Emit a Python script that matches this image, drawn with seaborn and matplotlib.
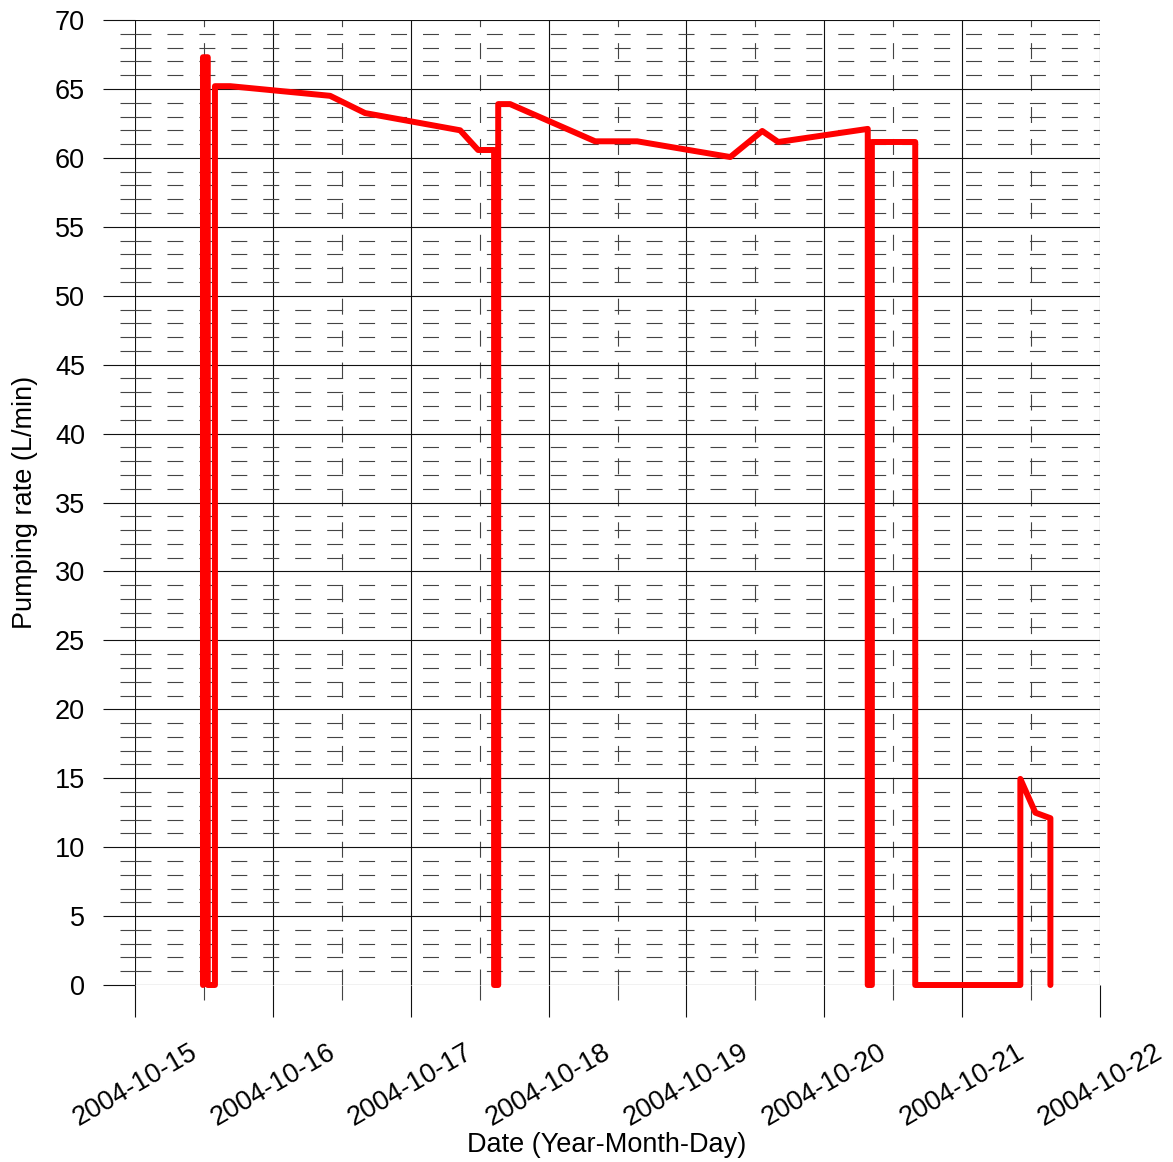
import pandas as pd
import matplotlib
matplotlib.use("Agg")
import matplotlib.pyplot as plt
import matplotlib.dates as mdates
from matplotlib.ticker import MultipleLocator
import seaborn as sns

# pumping record (time stamps and rates)
times = [
    "2004-10-15 11:50", "2004-10-15 11:50", "2004-10-15 12:40", "2004-10-15 12:40",
    "2004-10-15 13:55", "2004-10-15 13:55", "2004-10-15 16:34", "2004-10-16 09:58",
    "2004-10-16 16:03", "2004-10-17 08:36", "2004-10-17 11:44", "2004-10-17 14:31",
    "2004-10-17 14:31", "2004-10-17 15:14", "2004-10-17 15:14", "2004-10-17 17:18",
    "2004-10-18 08:07", "2004-10-18 15:26", "2004-10-19 07:38", "2004-10-19 13:12",
    "2004-10-19 15:59", "2004-10-20 07:34", "2004-10-20 07:34", "2004-10-20 08:17",
    "2004-10-20 08:17", "2004-10-20 15:50", "2004-10-20 15:50", "2004-10-21 10:08",
    "2004-10-21 10:08", "2004-10-21 12:45", "2004-10-21 15:22", "2004-10-21 15:22",
]
rates = [
    0, 67.3, 67.3, 0,
    0, 65.2, 65.2, 64.5,
    63.25, 62.0, 60.57, 60.57,
    0, 0, 63.9, 63.9,
    61.2, 61.2, 60.06, 61.95,
    61.15, 62.1, 0, 0,
    61.15, 61.15, 0, 0,
    14.95, 12.5, 12.1, 0,
]

df = pd.DataFrame({"Date": pd.to_datetime(times), "Rate": rates})

sns.set_style("white")
plt.rcParams["font.family"] = ["Liberation Sans", "DejaVu Sans"]
plt.rcParams["lines.scale_dashes"] = False
plt.rcParams["text.color"] = "black"
plt.rcParams["axes.labelcolor"] = "black"
plt.rcParams["xtick.color"] = "black"
plt.rcParams["ytick.color"] = "black"

fig = plt.figure(figsize=(11.73, 11.62), dpi=100)
ax = fig.add_axes([135 / 1173, 1 - 985 / 1162, 965 / 1173, 965 / 1162])

sns.lineplot(data=df, x="Date", y="Rate", sort=False, estimator=None,
             color="#ff0000", linewidth=4.3, ax=ax,
             solid_capstyle="round", solid_joinstyle="round", clip_on=False, zorder=5)

ax.set_xlim(pd.Timestamp("2004-10-15"), pd.Timestamp("2004-10-22"))
ax.set_ylim(0, 70)

ax.xaxis.set_major_locator(mdates.DayLocator())
ax.xaxis.set_minor_locator(mdates.HourLocator(byhour=[12]))
ax.xaxis.set_major_formatter(mdates.DateFormatter("%Y-%m-%d"))
ax.yaxis.set_major_locator(MultipleLocator(5))
ax.yaxis.set_minor_locator(MultipleLocator(1))

for s in ax.spines.values():
    s.set_visible(False)

ax.set_axisbelow(True)
ax.grid(which="major", color="#111111", linewidth=0.8, linestyle="-")
ax.grid(which="minor", color="#444444", linewidth=0.8, linestyle=(0, (11.5, 11.5)))

ax.tick_params(which="both", bottom=True, left=True, top=False, right=False)
ax.tick_params(which="major", direction="out", length=23, width=0.8,
               color="#111111", labelsize=19.5, labelcolor="black")
ax.tick_params(which="minor", direction="out", length=11, width=0.8, color="#444444")
ax.tick_params(axis="y", which="major", pad=13)
ax.tick_params(axis="x", which="major", pad=16)

for lab in ax.get_xticklabels():
    lab.set_rotation(30)
    lab.set_ha("center")
    lab.set_va("top")

ax.set_xlabel("Date (Year-Month-Day)", fontsize=19.5)
ax.set_ylabel("Pumping rate (L/min)", fontsize=19.5)
ax.xaxis.set_label_coords(0.489, -0.152)
ax.yaxis.set_label_coords(-0.1005, 0.5)

fig.savefig("out.png", dpi=100)
